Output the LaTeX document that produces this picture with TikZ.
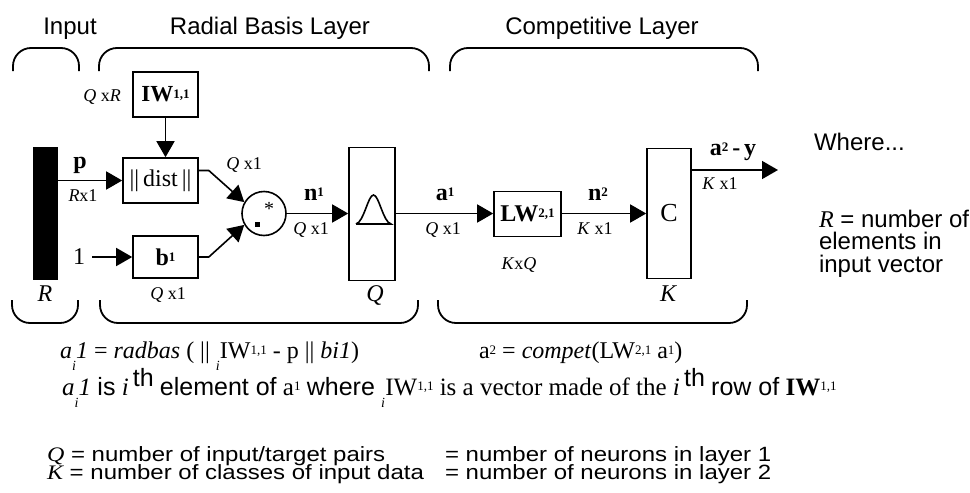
\documentclass[tikz,border=0pt]{standalone}
\usepackage{fontspec}
\setmainfont{Liberation Serif}
\setsansfont{Liberation Sans}
\usetikzlibrary{arrows.meta}

% small raised index and the i written under a symbol
\newcommand{\supsm}[1]{\raisebox{0.35ex}{\fontsize{6.5}{6.5}\selectfont #1}}
\newcommand{\undi}{\rlap{\raisebox{-1.1ex}{\fontsize{7}{7}\selectfont\itshape i}}}

\begin{document}
\begin{tikzpicture}[x=0.5pt, y=-0.5pt,
    box/.style={draw, line width=0.8pt, inner sep=0pt},
    arr/.style={-{Triangle[length=8pt,width=9pt]}, line width=0.8pt},
    brc/.style={line width=0.9pt, rounded corners=9pt},
    dimlbl/.style={font=\fontsize{9}{9}\selectfont, anchor=base},
    sig/.style={font=\bfseries\fontsize{12}{12}\selectfont, anchor=base},
    head/.style={font=\sffamily\fontsize{12}{12}\selectfont, anchor=base},
    note/.style={font=\sffamily\fontsize{12}{11.25}\selectfont, anchor=base west, align=left}]
        \useasboundingbox (0,0) rectangle (970,493);

        % Layer headings and braces
        \node[head] (hin) at (70,34) {Input};
        \node[head] (hrad) at (270,34) {Radial Basis Layer};
        \node[head] (hcomp) at (602,34) {Competitive Layer};
        \draw[brc] (13,71) -- (13,48) -- (79,48) -- (79,71);
        \draw[brc] (99,71) -- (99,48) -- (429,48) -- (429,71);
        \draw[brc] (450,71) -- (450,48) -- (758,48) -- (758,71);
        \draw[brc] (12,300) -- (12,323) -- (78,323) -- (78,300);
        \draw[brc] (100,300) -- (100,323) -- (418,323) -- (418,300);
        \draw[brc] (438,300) -- (438,323) -- (747,323) -- (747,300);

        % Input vector
        \node[fill=black, minimum width=12.5pt, minimum height=66.5pt, inner sep=0pt] (pin) at (45.5,213.5) {};
        \node[font=\fontsize{12}{12}\selectfont\itshape, anchor=base] (rlab) at (45,301) {R};

        % Radial basis layer
        \node[box, minimum width=32.5pt, minimum height=22.5pt, font=\bfseries\fontsize{11.5}{12}\selectfont] (iw) at (165.5,94.5) {IW\supsm{1,1}};
        \node[box, minimum width=37.5pt, minimum height=22.5pt, font=\fontsize{12}{12}\selectfont] (dist) at (160.5,180.5) {||\,dist\,||};
        \node[box, minimum width=32.5pt, minimum height=21pt, font=\bfseries\fontsize{12}{12}\selectfont] (bb) at (165.5,257) {b\supsm{1}};
        \node[font=\fontsize{12}{12}\selectfont] (one) at (79,257) {1};
        \node[draw, circle, line width=0.8pt, minimum size=22pt, inner sep=0pt] (prod) at (264,213.5) {};
        \fill (255,222) rectangle (260,227);
        \node[font=\fontsize{10}{10}\selectfont] (star) at (269,209) {*};
        \node[box, minimum width=23pt, minimum height=66.5pt] (qbox) at (372,214) {};
        \draw[line width=0.8pt] (356,224) -- (391,224) .. controls (383,222) and (379,195) .. (373.5,195) .. controls (368,195) and (364,222) .. (356,224);

        % Competitive layer
        \node[box, minimum width=33.5pt, minimum height=22.5pt, font=\bfseries\fontsize{12}{12}\selectfont] (lw) at (527.5,214) {LW\supsm{2,1}};
        \node[box, minimum width=22pt, minimum height=65pt, font=\fontsize{13}{13}\selectfont] (cbox) at (669,213.5) {C};
        \coordinate (out) at (778,170);

        % Connections
        \draw[arr] (pin.east |- dist.west) -- (dist.west);
        \draw[arr] (iw.south) -- (iw.south |- dist.north);
        \draw[arr] ([yshift=5pt]dist.east) -- ++(10,0) -- (prod.150);
        \draw[arr] (one) -- (bb);
        \draw[arr] (bb.east) -- ++(10,0) -- (prod.210);
        \draw[arr] (prod.east) -- (prod.east -| qbox.west);
        \draw[arr] (qbox.east |- prod) -- (lw.west |- prod);
        \draw[arr] (lw.east |- prod) -- (cbox.west |- prod);
        \draw[arr] (cbox.east |- out) -- (out);

        % Signal names and sizes
        \node[dimlbl] (qr) at (102,101) {\textit{Q} x\textit{R}};
        \node[sig] (plab) at (80,168) {p};
        \node[dimlbl] (rx1) at (83,201) {\textit{R}x1};
        \node[dimlbl] (bdim) at (168,299) {\textit{Q} x1};
        \node[dimlbl] (ddim) at (244,169) {\textit{Q} x1};
        \node[sig] (n1) at (314,200) {n\supsm{1}};
        \node[dimlbl] (n1dim) at (311,234) {\textit{Q} x1};
        \node[font=\fontsize{12}{12}\selectfont\itshape, anchor=base] (qlab) at (375,301) {Q};
        \node[sig] (a1) at (445,200) {a\supsm{1}};
        \node[dimlbl] (a1dim) at (443,234) {\textit{Q} x1};
        \node[dimlbl] (lwdim) at (519,269) {\textit{K}x\textit{Q}};
        \node[sig] (n2) at (598,200) {n\supsm{2}};
        \node[dimlbl] (n2dim) at (595,234) {\textit{K} x1};
        \node[font=\fontsize{12}{12}\selectfont\itshape, anchor=base] (klab) at (668,301) {K};
        \node[sig] (a2) at (733,155) {a\supsm{2}\,-\,y};
        \node[dimlbl] (a2dim) at (720,189) {\textit{K} x1};

        % Notes on the right
        \node[note] (where) at (807,150) {Where...};
        \node[note] (rdef) at (812,272) {{\rmfamily\itshape R} = number of\\elements in\\input vector};

        % Equations
        \node[anchor=base west, font=\fontsize{12}{12}\selectfont] (eq1) at (53,358) {\textit{a}\undi\,\textit{1} = \textit{radbas} ( || \undi\,IW\supsm{1,1} - p || \textit{bi1})};
        \node[anchor=base west, font=\fontsize{12}{12}\selectfont] (eq2) at (472,358) {a\supsm{2} = \textit{compet}(LW\supsm{2,1} a\supsm{1})};
        \node[anchor=base west, font=\fontsize{12.5}{12.5}\selectfont] (rowdef) at (55,395) {\textit{a}\undi\,\textit{1} {\sffamily is} \textit{i}\,\raisebox{0.7ex}{\sffamily th} {\sffamily element of} a\supsm{1} {\sffamily where} \undi\,IW\supsm{1,1} is a vector made of the \textit{i}\,\raisebox{0.7ex}{\sffamily th} {\sffamily row of} \textbf{IW}\supsm{1,1}};

        % Definitions of Q and K
        \node[note] (qdef) at (40,461) {\scalebox{1}[0.86]{{\rmfamily\itshape Q} = number of input/target pairs}};
        \node[note] (qneu) at (438,461) {\scalebox{1}[0.86]{= number of neurons in layer 1}};
        \node[note] (kdef) at (40,479) {\scalebox{1}[0.86]{{\rmfamily\itshape K} = number of classes of input data}};
        \node[note] (kneu) at (438,479) {\scalebox{1}[0.86]{= number of neurons in layer 2}};

    \end{tikzpicture}
\end{document}
